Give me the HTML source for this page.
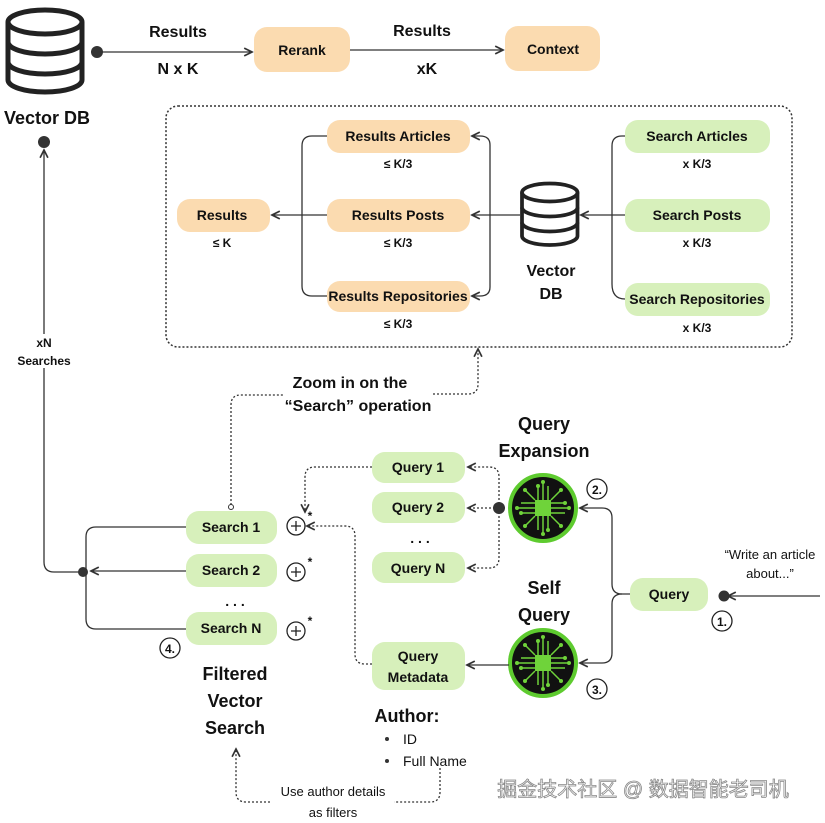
<!DOCTYPE html>
<html><head><meta charset="utf-8"><style>
body{margin:0;background:#fff}
svg{display:block}
text{font-family:"Liberation Sans","Noto Sans CJK SC",sans-serif;font-weight:bold;fill:#111;text-anchor:middle}
.n{font-size:14px}
.s{font-size:12px}
.t{font-size:16px}
.l{font-size:18px}
</style></head><body>
<svg width="825" height="823" viewBox="0 0 825 823" xmlns="http://www.w3.org/2000/svg">
<defs>
<marker id="a" markerWidth="8" markerHeight="8" refX="7" refY="4" orient="auto"><path d="M1,1 L7,4 L1,7" fill="none" stroke="#333" stroke-width="1.3"/></marker>
<g id="db"><g fill="#fff" stroke="#222" stroke-width="5">
<path d="M0,14 v58 a37,12 0 0 0 74,0 v-58"/><ellipse cx="37" cy="14" rx="37" ry="12"/>
<path d="M0,34 a37,12 0 0 0 74,0 M0,54 a37,12 0 0 0 74,0" fill="none"/></g></g>
<g id="chip"><circle r="33" fill="#111" stroke="#5ecb2f" stroke-width="4"/>
<g stroke="#6fd33a" stroke-width="1.5" fill="none">
<path d="M-5,-8 v-14 M0,-8 v-18 M5,-8 v-14 M-5,8 v14 M0,8 v18 M5,8 v14 M-8,-5 h-14 M-8,0 h-18 M-8,5 h-14 M8,-5 h14 M8,0 h18 M8,5 h14 M-8,-8 l-10,-10 M8,-8 l10,-10 M-8,8 l-10,10 M8,8 l10,10"/></g>
<g fill="#6fd33a"><rect x="-8" y="-8" width="16" height="16"/>
<circle cx="0" cy="-26" r="2"/><circle cx="0" cy="26" r="2"/><circle cx="-26" cy="0" r="2"/><circle cx="26" cy="0" r="2"/><circle cx="-18" cy="-18" r="2"/><circle cx="18" cy="-18" r="2"/><circle cx="-18" cy="18" r="2"/><circle cx="18" cy="18" r="2"/><circle cx="-5" cy="-22" r="2"/><circle cx="5" cy="22" r="2"/><circle cx="22" cy="-5" r="2"/><circle cx="-22" cy="5" r="2"/></g></g>
</defs>

<!-- top -->
<use href="#db" x="8" y="8"/>
<text x="47" y="124" class="l">Vector DB</text>
<circle cx="97" cy="52" r="6" fill="#333"/>
<line x1="97" y1="52" x2="252" y2="52" stroke="#333" stroke-width="1.3" marker-end="url(#a)"/>
<text x="178" y="37" class="t">Results</text><text x="178" y="74" class="t">N x K</text>
<rect x="254" y="27" width="96" height="45" rx="13" fill="#fbdbb0"/><text x="302" y="55" class="n">Rerank</text>
<line x1="350" y1="50" x2="503" y2="50" stroke="#333" stroke-width="1.3" marker-end="url(#a)"/>
<text x="422" y="36" class="t">Results</text><text x="427" y="74" class="t">xK</text>
<rect x="505" y="26" width="95" height="45" rx="13" fill="#fbdbb0"/><text x="553" y="54" class="n">Context</text>

<!-- dotted box -->
<rect x="166" y="106" width="626" height="241" rx="12" fill="none" stroke="#333" stroke-width="1.5" stroke-dasharray="2,2"/>
<g fill="#fbdbb0">
<rect x="327" y="120" width="143" height="33" rx="13"/><rect x="327" y="199" width="143" height="33" rx="13"/><rect x="327" y="281" width="143" height="31" rx="13"/><rect x="177" y="199" width="93" height="33" rx="13"/></g>
<text x="398" y="141" class="n">Results Articles</text><text x="398" y="168" class="s">≤ K/3</text>
<text x="398" y="220" class="n">Results Posts</text><text x="398" y="247" class="s">≤ K/3</text>
<text x="398" y="301" class="n">Results Repositories</text><text x="398" y="328" class="s">≤ K/3</text>
<text x="222" y="220" class="n">Results</text><text x="222" y="247" class="s">≤ K</text>
<use href="#db" transform="translate(522,182) scale(0.75)"/>
<g fill="#d7f0bb"><rect x="625" y="120" width="145" height="33" rx="13"/><rect x="625" y="199" width="145" height="33" rx="13"/><rect x="625" y="283" width="145" height="33" rx="13"/></g>
<text x="697" y="141" class="n">Search Articles</text><text x="697" y="168" class="s">x K/3</text>
<text x="697" y="220" class="n">Search Posts</text><text x="697" y="247" class="s">x K/3</text>
<text x="697" y="304" class="n">Search Repositories</text><text x="697" y="332" class="s">x K/3</text>
<text x="551" y="276" class="t">Vector</text><text x="551" y="299" class="t">DB</text>
<g fill="none" stroke="#333" stroke-width="1.3">
<path d="M625,136 h-3 q-10,0 -10,10 v138 q0,15 13,15"/><path d="M625,215 h-44" marker-end="url(#a)"/>
<path d="M520,215 h-48" marker-end="url(#a)"/>
<path d="M490,215 v-70 q0,-9 -10,-9 h-8" marker-end="url(#a)"/><path d="M490,215 v72 q0,9 -10,9 h-8" marker-end="url(#a)"/>
<path d="M327,136 h-15 q-10,0 -10,10 v140 q0,10 10,10 h15"/><path d="M327,215 h-55" marker-end="url(#a)"/>
</g>

<!-- zoom text -->
<text x="350" y="388" class="t">Zoom in on the</text><text x="358" y="411" class="t">“Search” operation</text>
<g fill="none" stroke="#333" stroke-width="1.3" stroke-dasharray="2,2">
<path d="M231,505 v-100 q0,-10 10,-10 h42"/>
<path d="M433,394 h35 q10,0 10,-10 v-35" marker-end="url(#a)"/>
</g>
<circle cx="231" cy="507" r="2.5" fill="#fff" stroke="#333"/>

<!-- searches -->
<g fill="#d7f0bb"><rect x="186" y="511" width="91" height="33" rx="13"/><rect x="186" y="554" width="91" height="33" rx="13"/><rect x="186" y="612" width="91" height="33" rx="13"/></g>
<text x="231" y="532" class="n">Search 1</text><text x="231" y="575" class="n">Search 2</text><text x="231" y="633" class="n">Search N</text>
<text x="235" y="606" class="n">. . .</text>
<g fill="none" stroke="#222" stroke-width="1.3">
<circle cx="296" cy="526" r="9"/><circle cx="296" cy="572" r="9"/><circle cx="296" cy="631" r="9"/>
<path d="M291,526h10M296,521v10M291,572h10M296,567v10M291,631h10M296,626v10"/></g>
<text x="310" y="520" class="s">*</text><text x="310" y="566" class="s">*</text><text x="310" y="625" class="s">*</text>
<g fill="none" stroke="#333" stroke-width="1.3">
<path d="M186,527 h-90 q-10,0 -10,10 v35"/><path d="M186,629 h-90 q-10,0 -10,-10 v-47"/>
<path d="M186,571 h-95" marker-end="url(#a)"/>
<path d="M83,572 h-29 q-10,0 -10,-10 v-412" marker-end="url(#a)"/>
</g>
<circle cx="83" cy="572" r="5" fill="#333"/>
<circle cx="44" cy="142" r="6" fill="#333"/>
<rect x="14" y="334" width="60" height="34" fill="#fff"/>
<text x="44" y="347" class="s">xN</text><text x="44" y="365" class="s">Searches</text>
<circle cx="170" cy="648" r="10" fill="#fff" stroke="#222" stroke-width="1.3"/><text x="170" y="653" class="s">4.</text>
<text x="235" y="680" class="l">Filtered</text><text x="235" y="707" class="l">Vector</text><text x="235" y="734" class="l">Search</text>

<!-- queries -->
<g fill="#d7f0bb"><rect x="372" y="452" width="93" height="31" rx="13"/><rect x="372" y="492" width="93" height="31" rx="13"/><rect x="372" y="552" width="93" height="31" rx="13"/><rect x="372" y="642" width="93" height="48" rx="13"/><rect x="630" y="578" width="78" height="33" rx="13"/></g>
<text x="418" y="472" class="n">Query 1</text><text x="418" y="512" class="n">Query 2</text><text x="418" y="573" class="n">Query N</text>
<text x="420" y="543" class="n">. . .</text>
<text x="418" y="661" class="n">Query</text><text x="418" y="682" class="n">Metadata</text>
<text x="669" y="599" class="n">Query</text>
<g fill="none" stroke="#333" stroke-width="1.3" stroke-dasharray="2,2">
<path d="M499,508 v-31 q0,-10 -10,-10 h-21" marker-end="url(#a)"/>
<path d="M499,508 h-31" marker-end="url(#a)"/>
<path d="M499,508 v50 q0,10 -10,10 h-21" marker-end="url(#a)"/>
<path d="M372,467 h-57 q-10,0 -10,10 v35" marker-end="url(#a)"/>
<path d="M372,664 h-7 q-10,0 -10,-10 v-118 q0,-10 -10,-10 h-38" marker-end="url(#a)"/>
</g>
<circle cx="499" cy="508" r="6" fill="#333"/>
<use href="#chip" x="543" y="508"/><use href="#chip" x="543" y="663"/>
<text x="544" y="430" class="l">Query</text><text x="544" y="457" class="l">Expansion</text>
<text x="544" y="594" class="l">Self</text><text x="544" y="621" class="l">Query</text>
<g fill="#fff" stroke="#222" stroke-width="1.3"><circle cx="597" cy="489" r="10"/><circle cx="597" cy="689" r="10"/><circle cx="722" cy="621" r="10"/></g>
<text x="597" y="494" class="s">2.</text><text x="597" y="694" class="s">3.</text><text x="722" y="626" class="s">1.</text>
<g fill="none" stroke="#333" stroke-width="1.3">
<path d="M630,594 h-8 q-10,0 -10,-10 v-66 q0,-10 -10,-10 h-22" marker-end="url(#a)"/>
<path d="M622,594 q-10,0 -10,10 v49 q0,10 -10,10 h-22" marker-end="url(#a)"/>
<path d="M509,665 h-42" marker-end="url(#a)"/>
<path d="M820,596 h-92" marker-end="url(#a)"/>
</g>
<circle cx="724" cy="596" r="5.5" fill="#333"/>
<text x="770" y="559" style="font-size:13px;font-weight:normal">“Write an article</text>
<text x="770" y="578" style="font-size:13px;font-weight:normal">about...”</text>

<!-- author -->
<text x="407" y="722" class="l">Author:</text>
<circle cx="387" cy="739" r="2" fill="#333"/><circle cx="387" cy="761" r="2" fill="#333"/>
<text x="403" y="744" style="font-size:14px;font-weight:normal;text-anchor:start">ID</text>
<text x="403" y="766" style="font-size:14px;font-weight:normal;text-anchor:start">Full Name</text>
<text x="333" y="796" style="font-size:13px;font-weight:normal">Use author details</text>
<text x="333" y="817" style="font-size:13px;font-weight:normal">as filters</text>
<g fill="none" stroke="#333" stroke-width="1.3" stroke-dasharray="2,2">
<path d="M440,768 v24 q0,10 -10,10 h-36"/>
<path d="M270,802 h-24 q-10,0 -10,-10 v-43" marker-end="url(#a)"/>
</g>
<text x="643" y="796" style="font-size:20px;font-weight:normal;fill:#fff;stroke:#888;stroke-width:0.8">掘金技术社区 @ 数据智能老司机</text>
</svg>
</body></html>
